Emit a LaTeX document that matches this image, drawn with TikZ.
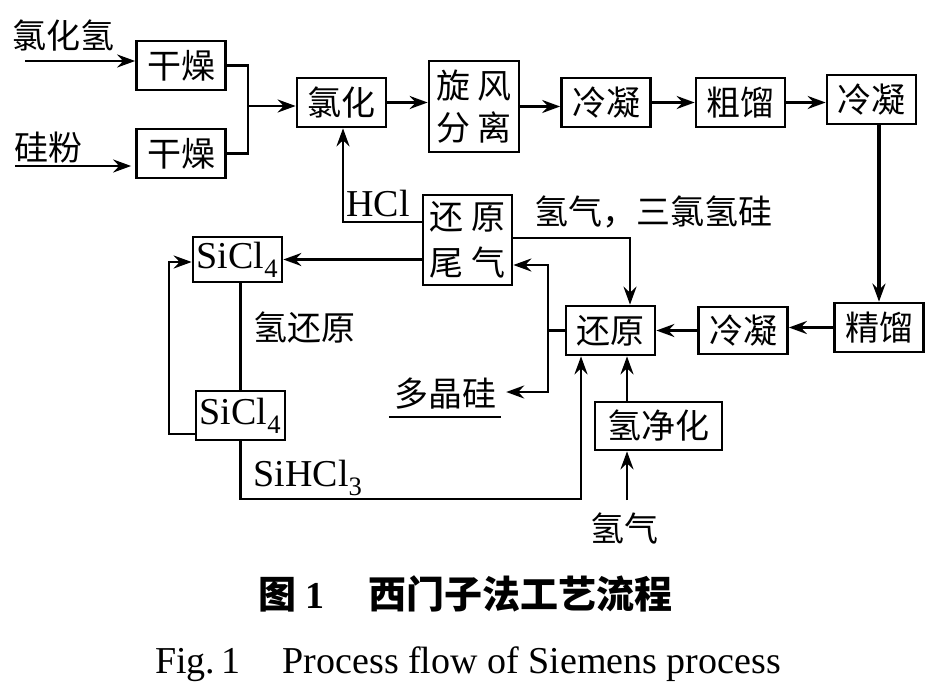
\documentclass[tikz,border=0pt]{standalone}
\usepackage{fontspec}
\setmainfont{Liberation Serif}
\newfontfamily\cjk{Noto Sans CJK SC}
\usetikzlibrary{arrows.meta}
\begin{document}
\begin{tikzpicture}[x=1pt,y=-1pt,
  cjkfont/.style={font=\cjk\fontsize{34}{40}\selectfont},
  latfont/.style={font=\fontsize{38}{40}\selectfont},
  box/.style={draw, line width=2.7pt, inner sep=0pt, minimum width=89pt, minimum height=49pt, cjkfont},
  lbl/.style={inner sep=0pt, cjkfont},
  lat/.style={inner sep=0pt, latfont},
  line/.style={line width=2.7pt},
  arr/.style={line width=2.7pt, -{Stealth[length=18pt,width=13pt,inset=6pt]}}]
\useasboundingbox (0,0) rectangle (944,698);
\fill[white] (0,0) rectangle (944,698);

% boxes
\node[box] (gz1) at (181,65.5) {干燥};
\node[box] (gz2) at (181,153.5) {干燥};
\node[box] (lh) at (341.5,102.5) {氯化};
\node[box, minimum width=90pt, minimum height=91pt, align=center, font=\cjk\fontsize{34}{42}\selectfont] (xf) at (474,106.5) {旋\hspace{8pt}风\\分\hspace{8pt}离};
\node[box] (ln1) at (606,102.5) {冷凝};
\node[box] (cl) at (740.5,102.5) {粗馏};
\node[box] (ln2) at (871.5,99.5) {冷凝};
\node[box] (jl) at (879,327.5) {精馏};
\node[box, minimum height=47pt] (ln3) at (743,330.5) {冷凝};
\node[box] (hy) at (610.5,330.5) {还原};
\node[box, minimum height=90pt, align=center, font=\cjk\fontsize{34}{46}\selectfont] (hw) at (467.5,240) {还\hspace{9pt}原\\尾\hspace{9pt}气};
\node[box, minimum height=45pt, latfont] (s1) at (237.5,259.5) {SiCl\textsubscript{4}};
\node[box, latfont] (s2) at (240.5,415.5) {SiCl\textsubscript{4}};
\node[box, minimum width=127pt, minimum height=48pt] (qj) at (658.5,426) {氢净化};

% labels
\node[lbl, anchor=west] (t1) at (12,36) {氯化氢};
\node[lbl, anchor=west] (t2) at (14,148) {硅粉};
\node[lat] (hcl) at (378,204) {HCl};
\node[lbl] (t3) at (653,212) {氢气，三氯氢硅};
\node[lbl] (t4) at (304,328) {氢还原};
\node[lbl] (dj) at (445,394) {多晶硅};
\node[lat] (sh) at (308,478) {SiHCl\textsubscript{3}};
\node[lbl] (qq) at (624,528) {氢气};

% captions
\node[inner sep=0pt, anchor=west, font=\fontsize{38}{40}\selectfont\bfseries] (cap1) at (258,594)
  {{\cjk\bfseries 图}\hspace{9pt}1\hspace{44pt}{\cjk\bfseries 西门子法工艺流程}};
\node[inner sep=0pt, anchor=base west, font=\fontsize{38}{40}\selectfont] (cap2) at (155,673)
  {Fig.\,1\hspace{42pt}Process flow of Siemens process};

% underline of 多晶硅
\draw[line width=1.8pt] ([shift={(-5,7)}]dj.south west) -- ([shift={(5,7)}]dj.south east);

% coordinates
\coordinate (a1) at (25,61);
\coordinate (a2) at (15,166);
\coordinate (m) at (248,106);
\coordinate (vt) at (548,265);
\coordinate (vb) at (548,392);
\coordinate (c1) at (630,238);
\coordinate (h) at (343,222);
\coordinate (lp) at (169,262);
\coordinate (lb) at (169,434);
\coordinate (sb) at (581,499);
\coordinate (q) at (627,500);

% connectors
\draw[arr] (a1) -- (a1 -| gz1.west);
\draw[arr] (a2) -- ([xshift=-4pt]a2 -| gz2.west);
\draw[line] (gz1.east) -| (m) |- (gz2.east);
\draw[arr] (m) -- (m -| lh.west);
\draw[arr] (lh.east) -- (lh.east -| xf.west);
\draw[arr] (xf.east) -- (xf.east -| ln1.west);
\draw[arr] (ln1.east) -- (ln1.east -| cl.west);
\draw[arr] (cl.east) -- (cl.east -| ln2.west);
\draw[arr, line width=3.6pt] (jl.north |- ln2.south) -- (jl.north);
\draw[arr] (jl.west) -- (jl.west -| ln3.east);
\draw[arr] (ln3.west) -- (ln3.west -| hy.east);
\draw[arr] (hy.west) -| (vt) -- (vt -| hw.east);
\draw[arr] (vt) -- (vb) -- ([xshift=10pt]dj.east |- vb);
\draw[arr] (hw.east |- c1) -| (c1 |- hy.north);
\draw[arr] (hw.west |- h) -| (h |- lh.south);
\draw[arr] (hw.west |- s1.east) -- (s1.east);
\draw[line] (s1.south -| s2.north) -- (s2.north);
\draw[arr] (s2.west |- lb) -| (lp) -- (lp -| s1.west);
\draw[arr] (s2.south) |- (sb) -- (sb |- hy.south);
\draw[arr] (q |- qj.north) -- (q |- hy.south);
\draw[arr] (q) -- (q |- qj.south);
\end{tikzpicture}
\end{document}
